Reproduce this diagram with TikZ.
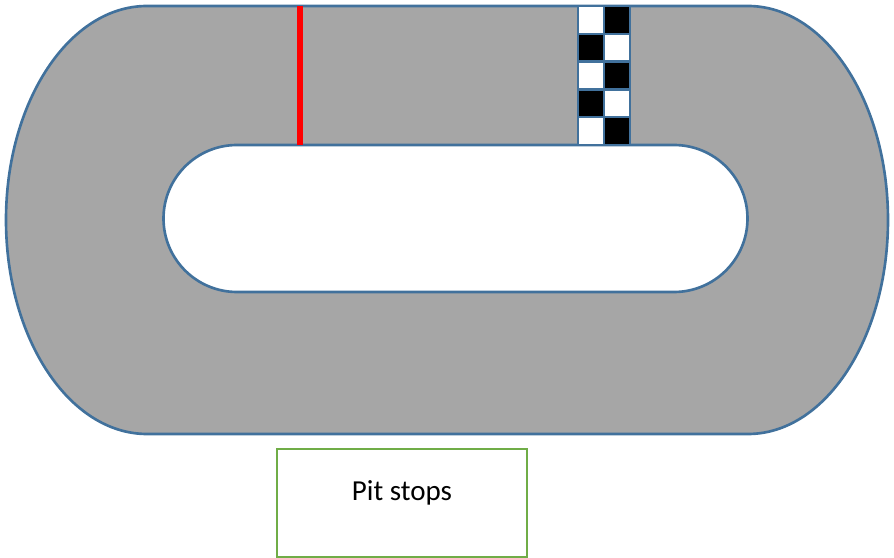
\documentclass[tikz,border=0pt]{standalone}
\usepackage{fontspec}
\setmainfont{Carlito}
\usetikzlibrary{positioning}
\definecolor{trackgray}{HTML}{A6A6A6}
\definecolor{edgeblue}{HTML}{41719C}
\definecolor{pitgreen}{HTML}{70AD47}
\begin{document}
\begin{tikzpicture}[x=0.02cm,y=0.02cm]
\tikzstyle{track}=[fill=trackgray,draw=edgeblue,line width=1.5pt,even odd rule]
\tikzstyle{cell}=[draw=edgeblue,line width=1.3pt]
\tikzstyle{pitbox}=[draw=pitgreen,line width=1.2pt,minimum width=5cm,minimum height=2.16cm,inner sep=0pt]
\useasboundingbox (0,0) rectangle (894,558);
% track with the infield cut out
\path[track] (147,552) -- (748,552) arc[start angle=90,end angle=-90,x radius=140,y radius=214] -- (147,124) arc[start angle=270,end angle=90,x radius=141,y radius=214] -- cycle
  (237,413) -- (674,413) arc[start angle=90,end angle=-90,radius=73.5] -- (237,266) arc[start angle=270,end angle=90,radius=73.5] -- cycle;
% red line
\coordinate (redtop) at (300,552); \coordinate (redbot) at (300,413);
\draw[red,line width=3.6pt] (redtop) -- (redbot);
% finish line
\foreach \r in {0,...,4}{\foreach \c in {0,1}{
  \pgfmathsetmacro{\shade}{mod(\r+\c,2)==1 ? "black" : "white"}
  \path[cell,fill=\shade] (578+26*\c,552-27.8*\r) rectangle (604+26*\c,552-27.8*\r-27.8);
}}
\node[pitbox] (pit) at (402,55) {};
\node[font=\fontsize{16.5}{20}\selectfont] (pitlabel) at (402,65) {Pit stops};
\end{tikzpicture}
\end{document}
